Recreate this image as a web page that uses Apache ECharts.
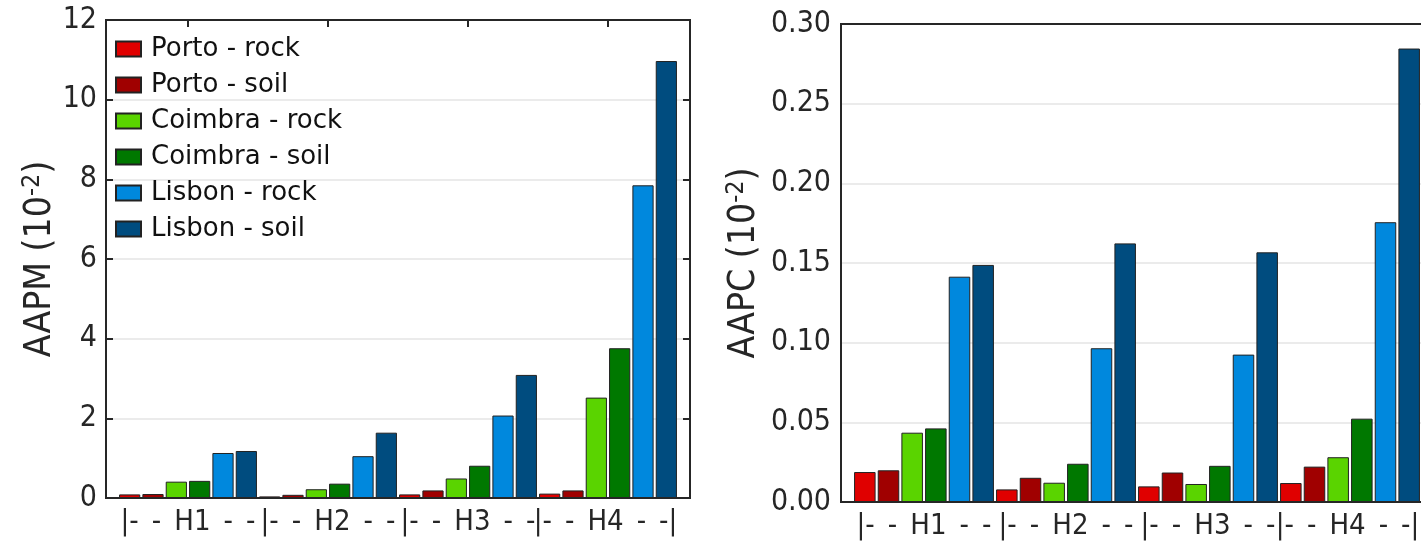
<!DOCTYPE html>
<html><head><meta charset="utf-8">
<script src="https://cdn.jsdelivr.net/npm/echarts@6/dist/echarts.min.js"></script>
<style>html,body{margin:0;padding:0;background:#fff}#c{width:1421px;height:548px}</style>
</head><body><div id="c"></div>
<script>
// ---- data ----
const categories = ['H1', 'H2', 'H3', 'H4'];
const S = '\u2002';
const tickLabels = [
  '|-' + S + '-' + S + 'H1' + S + '-' + S + '-',
  '|-' + S + '-' + S + 'H2' + S + '-' + S + '-',
  '|-' + S + '-' + S + 'H3' + S + '-' + S + '-',
  '|-' + S + '-' + S + 'H4' + S + '-' + S + '-|'
];
const seriesNames = ['Porto - rock', 'Porto - soil', 'Coimbra - rock', 'Coimbra - soil', 'Lisbon - rock', 'Lisbon - soil'];

// AAPM (10^-2)
const portoRockAAPM   = [0.09, 0.04, 0.09, 0.11];
const portoSoilAAPM   = [0.10, 0.08, 0.19, 0.19];
const coimbraRockAAPM = [0.41, 0.22, 0.49, 2.52];
const coimbraSoilAAPM = [0.43, 0.36, 0.81, 3.76];
const lisbonRockAAPM  = [1.13, 1.05, 2.07, 7.85];
const lisbonSoilAAPM  = [1.18, 1.64, 3.09, 10.97];

// AAPC (10^-2)
const portoRockAAPC   = [0.0188, 0.0079, 0.0098, 0.0119];
const portoSoilAAPC   = [0.0199, 0.0152, 0.0185, 0.0222];
const coimbraRockAAPC = [0.0435, 0.0121, 0.0113, 0.0281];
const coimbraSoilAAPC = [0.0462, 0.0240, 0.0227, 0.0523];
const lisbonRockAAPC  = [0.1414, 0.0965, 0.0925, 0.1756];
const lisbonSoilAAPC  = [0.1488, 0.1623, 0.1567, 0.2846];

// ---- style ----
const colors = ['#e00000', '#a00000', '#5ad400', '#007800', '#0088dd', '#004c7f'];
const FONT_C = '"DejaVu Sans Condensed", "DejaVu Sans", sans-serif';
const FONT_N = '"DejaVu Sans", sans-serif';
const TXT = '#262626';
const FRAME = '#262626';

const aapm = [portoRockAAPM, portoSoilAAPM, coimbraRockAAPM, coimbraSoilAAPM, lisbonRockAAPM, lisbonSoilAAPM];
const aapc = [portoRockAAPC, portoSoilAAPC, coimbraRockAAPC, coimbraSoilAAPC, lisbonRockAAPC, lisbonSoilAAPC];

const chart = echarts.init(document.getElementById('c'), null, { renderer: 'canvas' });

const catLabel = {
  interval: 0, margin: 10, color: TXT, fontFamily: FONT_C, fontSize: 29,
  formatter: (v, i) => tickLabels[i]
};
const catData = categories.map((c, i) => i === 3 ? { value: c, textStyle: { padding: [0, 5, 0, 0] } } : c);

const nameStyle = {
  fontFamily: FONT_C, fontSize: 37, color: TXT,
  rich: { sup: { fontFamily: FONT_C, fontSize: 25, color: TXT, verticalAlign: 'top', padding: [0, 0, 16, 0] } }
};

function mkSeries(vals, xi, yi) {
  return vals.map((d, k) => ({
    name: seriesNames[k], type: 'bar', xAxisIndex: xi, yAxisIndex: yi, data: d,
    barGap: '10%', barCategoryGap: '1.5%',
    itemStyle: { color: colors[k], borderColor: '#222', borderWidth: 1 }
  }));
}

const gridBase = { outerBoundsMode: 'none', containLabel: false };

chart.setOption({
  animation: false,
  backgroundColor: '#fff',
  grid: [
    Object.assign({ left: 106, top: 20, width: 584, height: 478, show: true, borderColor: FRAME, borderWidth: 2, backgroundColor: 'transparent', z: 3 }, gridBase),
    Object.assign({ left: 118, top: 20, width: 560, height: 478 }, gridBase),
    Object.assign({ left: 841, top: 24, width: 592, height: 478, show: true, borderColor: FRAME, borderWidth: 2, backgroundColor: 'transparent', z: 3 }, gridBase),
    Object.assign({ left: 853, top: 24, width: 568, height: 478 }, gridBase)
  ],
  legend: {
    data: seriesNames, orient: 'vertical', left: 115, top: 35, padding: 0,
    itemGap: 8, itemWidth: 25, itemHeight: 15, icon: 'rect', selectedMode: false,
    textStyle: { fontFamily: FONT_N, fontSize: 26, color: '#111', lineHeight: 28, padding: [0, 0, 0, 5] }
  },
  xAxis: [
    { gridIndex: 0, type: 'value', min: 0, max: 1, show: false },
    { gridIndex: 1, type: 'category', data: catData, position: 'bottom',
      axisLine: { show: false }, axisTick: { show: false }, axisLabel: catLabel },
    { gridIndex: 1, type: 'category', data: categories, position: 'top',
      axisLine: { show: false }, axisLabel: { show: false },
      axisTick: { show: true, inside: true, alignWithLabel: true, length: 7, lineStyle: { color: FRAME, width: 2 } } },
    { gridIndex: 2, type: 'value', min: 0, max: 1, show: false },
    { gridIndex: 3, type: 'category', data: catData, position: 'bottom',
      axisLine: { show: false }, axisTick: { show: false }, axisLabel: catLabel }
  ],
  yAxis: [
    { gridIndex: 0, type: 'value', min: 0, max: 12, interval: 2, position: 'left',
      name: 'AAPM (10{sup|-2})', nameLocation: 'middle', nameRotate: 90, nameGap: 42, nameTextStyle: nameStyle,
      axisLine: { show: false },
      axisTick: { show: true, inside: true, length: 7, lineStyle: { color: FRAME, width: 2 } },
      axisLabel: { margin: 9, color: TXT, fontFamily: FONT_C, fontSize: 30 },
      splitLine: { show: true, lineStyle: { color: '#e4e4e4', width: 1.5 } } },
    { gridIndex: 0, type: 'value', min: 0, max: 12, interval: 2, position: 'right',
      axisLine: { show: false }, axisLabel: { show: false }, splitLine: { show: false },
      axisTick: { show: true, inside: true, length: 7, lineStyle: { color: FRAME, width: 2 } } },
    { gridIndex: 1, type: 'value', min: 0, max: 12, show: false },
    { gridIndex: 2, type: 'value', min: 0, max: 0.3, interval: 0.05, position: 'left',
      name: 'AAPC (10{sup|-2})', nameLocation: 'middle', nameRotate: 90, nameGap: 76, nameTextStyle: nameStyle,
      axisLine: { show: false }, axisTick: { show: false },
      axisLabel: { margin: 10, color: TXT, fontFamily: FONT_C, fontSize: 30, formatter: v => v.toFixed(2) },
      splitLine: { show: true, lineStyle: { color: '#e4e4e4', width: 1.5 } } },
    { gridIndex: 3, type: 'value', min: 0, max: 0.3, show: false }
  ],
  series: [].concat(mkSeries(aapm, 1, 2), mkSeries(aapc, 4, 4))
});
</script></body></html>
